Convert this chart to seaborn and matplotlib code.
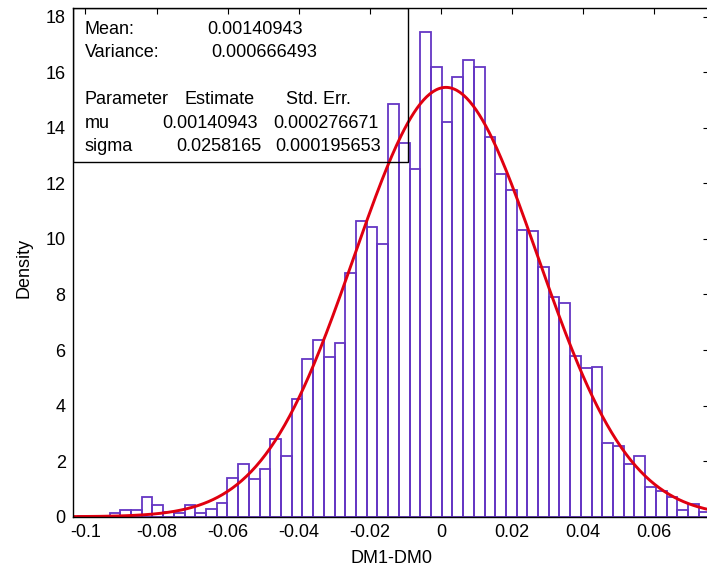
import numpy as np
import pandas as pd
import matplotlib
matplotlib.use('Agg')
import matplotlib.pyplot as plt
from matplotlib.patches import Rectangle
import seaborn as sns

# Histogram (density per bin)
bin_start = -0.10224
bin_width = 0.003013
densities = [0.04, 0.04, 0.04, 0.12, 0.24, 0.24, 0.70, 0.43, 0.16, 0.15,
             0.42, 0.12, 0.27, 0.48, 1.38, 1.89, 1.35, 1.72, 2.79, 2.19,
             4.23, 5.67, 6.36, 5.76, 6.26, 8.76, 10.64, 10.41, 9.83, 14.84,
             13.46, 12.51, 17.46, 16.20, 14.21, 15.82, 16.44, 16.20, 13.68, 12.34,
             11.76, 10.32, 10.28, 8.98, 7.92, 7.70, 5.78, 5.34, 5.40, 2.64,
             2.56, 1.89, 2.19, 1.08, 0.93, 0.70, 0.24, 0.46, 0.18]

# Normal fit shown in the text box
mean_val = 0.00140943
variance_val = 0.000666493
mu, mu_err = 0.00140943, 0.000276671
sigma, sigma_err = 0.0258165, 0.000195653

x_ticks = [-0.1, -0.08, -0.06, -0.04, -0.02, 0, 0.02, 0.04, 0.06]
x_ticklabels = ['-0.1', '-0.08', '-0.06', '-0.04', '-0.02', '0', '0.02', '0.04', '0.06']
y_ticks = [0, 2, 4, 6, 8, 10, 12, 14, 16, 18]

edges = bin_start + bin_width * np.arange(len(densities) + 1)
centers = (edges[:-1] + edges[1:]) / 2
hist_df = pd.DataFrame({'x': centers, 'density': densities})

sns.set_style('white')
plt.rcParams['font.family'] = ['Liberation Sans', 'DejaVu Sans']
plt.rcParams['axes.unicode_minus'] = False
plt.rcParams['text.color'] = 'black'
plt.rcParams['axes.labelcolor'] = 'black'

fig = plt.figure(figsize=(7.07, 5.71), dpi=100)
ax = fig.add_axes([0.1028, 0.0951, 0.900, 0.8904])

sns.histplot(data=hist_df, x='x', weights='density', bins=edges.tolist(), stat='count',
             fill=False, color='#6536c4', linewidth=1.3, ax=ax)

xlim = (-0.1036, 0.0754)
xs = np.linspace(xlim[0], xlim[1], 400)
pdf = np.exp(-0.5 * ((xs - mu) / sigma) ** 2) / (sigma * np.sqrt(2 * np.pi))
sns.lineplot(x=xs, y=pdf, color='#e00010', linewidth=2.1, ax=ax)

ax.set_xlim(*xlim)
ax.set_ylim(0, 18.3)
ax.set_xticks(x_ticks)
ax.set_xticklabels(x_ticklabels)
ax.set_yticks(y_ticks)
ax.tick_params(axis='both', direction='in', length=4, width=0.8, labelsize=13,
               colors='black', labelcolor='black', pad=5)
ax.tick_params(axis='x', top=True)
ax.tick_params(axis='y', right=True)
for sp in ax.spines.values():
    sp.set_color('black')
    sp.set_linewidth(1.0)

ax.set_xlabel('DM1-DM0', fontsize=13, color='black')
ax.set_ylabel('Density', fontsize=13, color='black')
ax.xaxis.set_label_coords(0.501, -0.066)
ax.yaxis.set_label_coords(-0.063, 0.49)

# Text box with fit results
ax.add_patch(Rectangle((0, 0.6971), 0.5265, 0.3029, transform=ax.transAxes,
                       fill=False, edgecolor='black', linewidth=1.0, zorder=5))
tk = dict(transform=ax.transAxes, fontsize=13, va='center', ha='left',
          color='black', zorder=6)
ax.text(0.0193, 0.9587, 'Mean:', **tk)
ax.text(0.2115, 0.9587, f'{mean_val:.8f}', **tk)
ax.text(0.0193, 0.9127, 'Variance:', **tk)
ax.text(0.2185, 0.9127, f'{variance_val:.9f}', **tk)
ax.text(0.0193, 0.8196, 'Parameter', **tk)
ax.text(0.1765, 0.8196, 'Estimate', **tk)
ax.text(0.3352, 0.8196, 'Std. Err.', **tk)
ax.text(0.0193, 0.7724, 'mu', **tk)
ax.text(0.1414, 0.7724, f'{mu:.8f}', **tk)
ax.text(0.3153, 0.7724, f'{mu_err:.9f}', **tk)
ax.text(0.0193, 0.7278, 'sigma', **tk)
ax.text(0.1634, 0.7278, f'{sigma:.7f}', **tk)
ax.text(0.3180, 0.7278, f'{sigma_err:.9f}', **tk)

fig.savefig('out.png', dpi=100)
